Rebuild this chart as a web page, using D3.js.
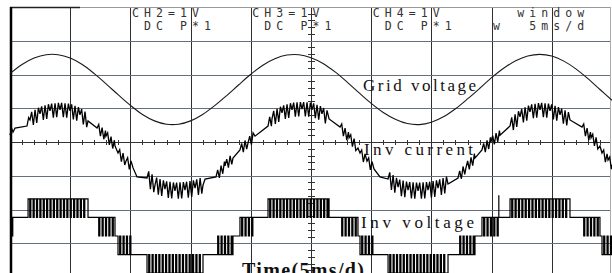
<!DOCTYPE html>
<html><head><meta charset="utf-8">
<script src="https://cdn.jsdelivr.net/npm/d3@7"></script>
<style>body{margin:0;background:#fff}svg{display:block}</style>
</head><body>
<svg id="c" width="612" height="273"></svg>
<script>
// ---- data (time in ms, values in V at 1 V/div) ----
const gridT = [0,1,2,3,4,5,6,7,8,9,10,11,12,13,14,15,16,17,18,19,20,21,22,23,24,25,26,27,28,29,30,31,32,33,34,35,36,37,38,39,40,41,42,43,44,45,46,47,48,49,50];
const gridV = [0.47,0.74,0.93,1.03,1.03,0.93,0.74,0.47,0.16,-0.16,-0.47,-0.74,-0.93,-1.03,-1.03,-0.93,-0.74,-0.48,-0.18,0.14,0.45,0.72,0.91,1.02,1.03,0.94,0.77,0.52,0.22,-0.10,-0.41,-0.68,-0.88,-1.01,-1.04,-0.97,-0.81,-0.57,-0.28,0.03,0.35,0.63,0.85,0.99,1.04,0.99,0.84,0.61,0.32,0.00,-0.32];

const curT = [0.00,0.25,0.42,1.41,1.66,2.49,3.32,4.15,4.98,5.81,6.48,7.23,7.97,8.72,8.97,9.63,10.22,10.55,11.38,12.04,12.87,13.70,14.53,15.37,16.03,16.20,17.11,17.86,18.52,19.10,19.77,20.35,21.43,21.76,22.59,23.42,24.25,25.08,25.91,26.50,27.41,28.16,28.90,29.07,29.65,30.23,30.73,31.40,32.23,33.06,33.89,34.72,35.55,36.38,37.21,37.87,38.62,39.20,39.95,40.70,41.53,42.36,43.19,44.02,44.85,45.68,46.51,47.51,48.26,49.00,49.17,49.67,50.00];
const curV = [0.44,0.53,0.65,0.71,0.89,1.07,1.16,1.19,1.16,1.04,0.86,0.65,0.41,0.12,-0.09,-0.33,-0.53,-0.80,-0.83,-1.04,-1.16,-1.21,-1.19,-1.13,-1.04,-0.86,-0.80,-0.47,-0.24,0.00,0.21,0.41,0.71,0.92,1.10,1.19,1.21,1.19,1.07,0.92,0.68,0.36,0.06,-0.09,-0.33,-0.56,-0.80,-0.86,-1.10,-1.19,-1.21,-1.19,-1.13,-1.01,-0.83,-0.53,-0.24,0.00,0.24,0.44,0.71,0.98,1.13,1.19,1.16,1.04,0.89,0.68,0.36,0.12,-0.09,-0.30,-0.44];
const curRipple = [0.15,0.10,0,0.15,0.21,0.21,0.21,0.21,0.21,0.21,0,0.15,0.15,0,0.15,0.15,0,0,0.24,0.24,0.24,0.24,0.24,0.24,0,0,0.15,0.15,0,0.15,0.15,0,0.18,0.21,0.21,0.21,0.21,0.21,0.21,0,0.15,0.15,0,0.15,0.15,0,0,0.24,0.24,0.24,0.24,0.24,0.24,0,0.15,0.15,0,0.15,0.15,0,0.21,0.21,0.21,0.21,0.21,0.21,0,0.15,0.15,0,0.15,0.15,0];

// inverter voltage: segments [start, end] switching between levels A and B (A==B: flat)
const invStart = [0.00,0.42,1.50,6.48,7.23,8.72,8.97,10.22,11.38,16.03,17.11,18.52,19.10,20.35,21.43,26.50,27.41,28.90,29.07,30.23,31.40,36.38,37.21,38.62,39.20,40.70,41.53,46.51,47.51,49.00,49.17];
const invEnd   = [0.42,1.50,6.48,7.23,8.72,8.97,10.22,11.38,16.03,17.11,18.52,19.10,20.35,21.43,26.50,27.41,28.90,29.07,30.23,31.40,36.38,37.21,38.62,39.20,40.70,41.53,46.51,47.51,49.00,49.17,50.00];
const invA     = [0,0.55,0.55,0.55,0,0,0,-0.55,-0.55,-0.55,0,0,0,0.55,0.55,0.55,0,0,0,-0.55,-0.55,-0.55,0,0,0,0.55,0.55,0.55,0,0,0];
const invB     = [0.55,0.55,1.10,0.55,0.55,0,-0.55,-0.55,-1.10,-0.55,-0.55,0,0.55,0.55,1.10,0.55,0.55,0,-0.55,-0.55,-1.10,-0.55,-0.55,0,0.55,0.55,1.10,0.55,0.55,0,-0.55];
const invSpikeT = [40.6];
const invSpikeV = [1.21];

const headerTop = ["CH2=1V","CH3=1V","CH4=1V","  window"];
const headerBot = [" DC P*1"," DC P*1"," DC P*1","w  5ms/d"];
const traceLabels = ["Grid voltage","Inv current","Inv voltage"];
const axisLabel = "Time(5ms/d)";

// ---- layout ----
const svg = d3.select("#c");
const x = d3.scaleLinear().domain([0,50]).range([10,612]);
const y = d3.scaleLinear().domain([-4,4]).range([277,7]);
const offGrid = 1.556, offCur = -0.237, offInv = -2.785;  // channel ground positions (div)
const carrier = 0.28;

// grid
const g = svg.append("g");
g.selectAll(".vg").data(d3.range(5,50,5)).join("line")
  .attr("x1",d=>Math.round(x(d))+0.5).attr("x2",d=>Math.round(x(d))+0.5)
  .attr("y1",y(4)).attr("y2",273).attr("stroke","#2e2e2e").attr("stroke-width",1);
g.selectAll(".hg").data(d3.range(-3,4,1)).join("line")
  .attr("x1",x(0)).attr("x2",611)
  .attr("y1",d=>Math.round(y(d))+0.5).attr("y2",d=>Math.round(y(d))+0.5)
  .attr("stroke",d=>d===0?"#333":"#66707c").attr("stroke-width",1);
g.append("line").attr("x1",x(0)).attr("x2",611).attr("y1",7.5).attr("y2",7.5).attr("stroke","#999");
g.append("line").attr("x1",x(0)).attr("x2",80).attr("y1",7.5).attr("y2",7.5).attr("stroke","#222").attr("stroke-width",1.5);
g.append("line").attr("x1",610.5).attr("x2",610.5).attr("y1",7).attr("y2",273).attr("stroke","#aaa");
g.append("line").attr("x1",11).attr("x2",11).attr("y1",7).attr("y2",273).attr("stroke","#000").attr("stroke-width",2.5);
g.selectAll(".ht").data(d3.range(1,50,1).filter(d=>d%5)).join("line")
  .attr("x1",d=>Math.round(x(d))+0.5).attr("x2",d=>Math.round(x(d))+0.5)
  .attr("y1",y(0)-2).attr("y2",y(0)+3).attr("stroke","#333");
g.selectAll(".vt").data(d3.range(-3.8,4,0.2).filter(d=>Math.abs(Math.round(d*5)%5)!==0)).join("line")
  .attr("x1",x(25)-3).attr("x2",x(25)+4)
  .attr("y1",d=>Math.round(y(d))+0.5).attr("y2",d=>Math.round(y(d))+0.5).attr("stroke","#333");

// header text
const hx = [10,20,30,40];
const hStyle = "white-space:pre;font-family:'DejaVu Sans Mono',monospace;font-size:11.5px;letter-spacing:5.1px;fill:#333";
headerTop.forEach((s,i)=>{
  svg.append("text").attr("x",x(hx[i])+1.5).attr("y",16.5).text(s).attr("style",hStyle);
  svg.append("text").attr("x",x(hx[i])+1.5).attr("y",29.5).text(headerBot[i]).attr("style",hStyle);
});

// grid voltage
svg.append("path").datum(gridT.map((t,i)=>[t,gridV[i]+offGrid]))
  .attr("d",d3.line().x(d=>x(d[0])).y(d=>y(d[1])).curve(d3.curveCatmullRom))
  .attr("fill","none").attr("stroke","#1a1a1a").attr("stroke-width",1.1);

// inverter current: base path with switching ripple
const curPts = [];
for (let i=0;i<curT.length-1;i++){
  const t0=curT[i], t1=curT[i+1], v0=curV[i], v1=curV[i+1], a=curRipple[i];
  curPts.push([t0,v0+offCur]);
  if (a>0){
    let k=0;
    for (let t=t0+carrier/2; t<t1-0.04; t+=carrier/2, k++){
      const b = v0+(v1-v0)*(t-t0)/(t1-t0);
      curPts.push([t, b+offCur+(k%2? -a: a)]);
    }
  }
}
curPts.push([curT[curT.length-1],curV[curV.length-1]+offCur]);
svg.append("path").datum(curPts).attr("d",d3.line().x(d=>x(d[0])).y(d=>y(d[1])))
  .attr("fill","none").attr("stroke","#000").attr("stroke-width",1.3);

// inverter voltage
const invPts = [];
for (let i=0;i<invStart.length;i++){
  const t0=invStart[i], t1=invEnd[i], a=invA[i], b=invB[i];
  if (a===b){ invPts.push([t0,a+offInv],[t1,a+offInv]); continue; }
  const band = Math.abs(a)>Math.abs(b)?a:b, other = band===a?b:a;
  invPts.push([t0,band+offInv]);
  for (let t=t0+carrier/2; t<t1-0.1; t+=carrier){
    invPts.push([t,band+offInv],[t,other+offInv],[t+0.09,other+offInv],[t+0.09,band+offInv]);
  }
  invPts.push([t1,band+offInv]);
}
svg.append("path").datum(invPts).attr("d",d3.line().x(d=>x(d[0])).y(d=>y(d[1])))
  .attr("fill","none").attr("stroke","#000").attr("stroke-width",1.2);
invSpikeT.forEach((t,i)=>{
  svg.append("line").attr("x1",x(t)).attr("x2",x(t)).attr("y1",y(0.55+offInv)).attr("y2",y(invSpikeV[i]+offInv))
    .attr("stroke","#000").attr("stroke-width",1.2);
});

// trace labels
const lab = [[363,91,113],[364,155,109],[361,228,113]];
traceLabels.forEach((s,i)=>{
  svg.append("text").attr("x",lab[i][0]).attr("y",lab[i][1]).text(s)
    .attr("textLength",lab[i][2]).attr("lengthAdjust","spacing")
    .attr("style","font-family:'Liberation Serif',serif;font-size:17px;fill:#111");
});
svg.append("text").attr("x",242).attr("y",277).text(axisLabel)
  .attr("textLength",122).attr("lengthAdjust","spacing")
  .attr("style","font-family:'Liberation Serif',serif;font-size:20px;font-weight:bold;fill:#111");
</script>
</body></html>
